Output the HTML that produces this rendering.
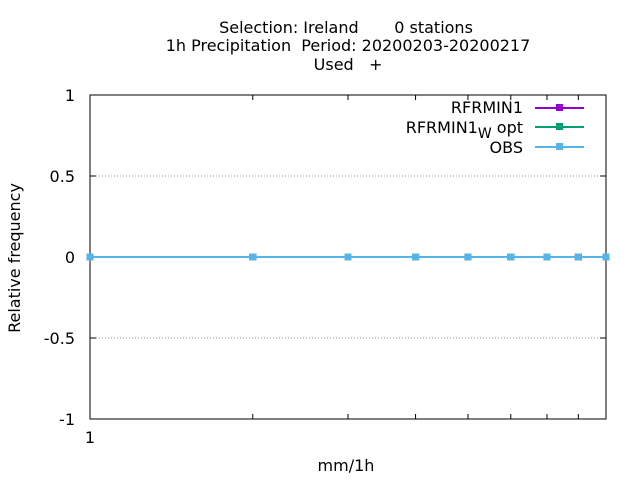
<!DOCTYPE html>
<html><head><meta charset="utf-8"><style>
body{margin:0;background:#fff;}
svg{display:block;font-family:"DejaVu Sans","Liberation Sans",sans-serif;}
</style></head><body>
<svg id="chart" width="640" height="480">
<g font-size="16" text-anchor="middle" fill="#000">
<text x="346" y="33" xml:space="preserve">Selection: Ireland       0 stations</text>
<text x="348" y="51" xml:space="preserve">1h Precipitation  Period: 20200203-20200217</text>
<text x="348" y="70" xml:space="preserve">Used   +</text>
</g>
<g id="grid"></g>
<g id="axes"></g>
<g id="series"></g>
<text x="20" y="258" font-size="16" text-anchor="middle" transform="rotate(-90 20 258)">Relative frequency</text>
<text x="346" y="471" font-size="16" text-anchor="middle">mm/1h</text>
<g font-size="16" text-anchor="end">
<g>
<text x="523" y="113">RFRMIN1</text>
<line x1="535" y1="108" x2="584" y2="108" stroke="#9400d3" stroke-width="2"/>
<rect x="556" y="104" width="7" height="7" fill="#9400d3"/></g>
<g>
<text x="523" y="133">RFRMIN1<tspan font-size="14" dy="5">W</tspan><tspan dy="-5"> opt</tspan></text>
<line x1="535" y1="127" x2="584" y2="127" stroke="#009e73" stroke-width="2"/>
<rect x="556" y="123" width="7" height="7" fill="#009e73"/></g>
<g>
<text x="523" y="153">OBS</text>
<line x1="535" y1="147" x2="584" y2="147" stroke="#56b4e9" stroke-width="2"/>
<rect x="556" y="143" width="7" height="7" fill="#56b4e9"/></g>
</g>
</svg>
<script>
const xValues=[1,2,3,4,5,6,7,8,9];
const rfrmin1=[0,0,0,0,0,0,0,0,0];
const rfrmin1Wopt=[0,0,0,0,0,0,0,0,0];
const obs=[0,0,0,0,0,0,0,0,0];
const yTicks=[1,0.5,0,-0.5,-1];
const yTickLabels=["1","0.5","0","-0.5","-1"];
const xTickLabels=["1"];
const L=90,R=606,T=95,B=419;
const xMin=1,xMax=9,yMin=-1,yMax=1;
function xs(v){return L+(Math.log10(v)-Math.log10(xMin))/(Math.log10(xMax)-Math.log10(xMin))*(R-L);}
function ys(v){return B-(v-yMin)/(yMax-yMin)*(B-T);}
const NS="http://www.w3.org/2000/svg";
function mk(tag,attrs,parent){const e=document.createElementNS(NS,tag);for(const k in attrs)e.setAttribute(k,attrs[k]);parent.appendChild(e);return e;}
const grid=document.getElementById('grid'),axes=document.getElementById('axes'),series=document.getElementById('series');
yTicks.forEach((t,i)=>{
 const y=ys(t);
 if(t!==0&&t!==1&&t!==-1){const g=mk('line',{x1:L,x2:R,y1:y,y2:y,stroke:'#999','stroke-dasharray':'1,2','stroke-width':1},grid);
 
 }
 const tk=mk('line',{x1:L,x2:L+6,y1:y,y2:y,stroke:'#000'},axes);
 
 
 const tk2=mk('line',{x1:R-6,x2:R,y1:y,y2:y,stroke:'#000'},axes);
 
 
 const lb=mk('text',{x:L-15,y:y+6,'font-size':16,'text-anchor':'end'},axes);
 lb.textContent=yTickLabels[i];
 
 
});
xValues.forEach(v=>{
 const x=xs(v);
 const a=mk('line',{x1:x,x2:x,y1:B,y2:B-(v===1?9:5),stroke:'#000'},axes);
 
 
 const b=mk('line',{x1:x,x2:x,y1:T,y2:T+(v===1?9:5),stroke:'#000'},axes);
 
 
});
const xl=mk('text',{x:xs(1),y:B+24,'font-size':16,'text-anchor':'middle'},axes);
xl.textContent=xTickLabels[0];


const fr=mk('rect',{x:L,y:T,width:R-L,height:B-T,fill:'none',stroke:'#000'},axes);


[[rfrmin1,'#9400d3','rfrmin1'],[rfrmin1Wopt,'#009e73','rfrmin1-wopt'],[obs,'#56b4e9','obs']].forEach(([d,c,n])=>{
 const pts=d.map((v,i)=>xs(xValues[i])+','+ys(v)).join(' ');
 const pl=mk('polyline',{points:pts,fill:'none',stroke:c,'stroke-width':2},series);
 
 
 d.forEach((v,i)=>{
  const r=mk('rect',{x:xs(xValues[i])-3.5,y:ys(v)-3.5,width:7,height:7,fill:c},series);
  
  
 });
});
</script>
</body></html>
